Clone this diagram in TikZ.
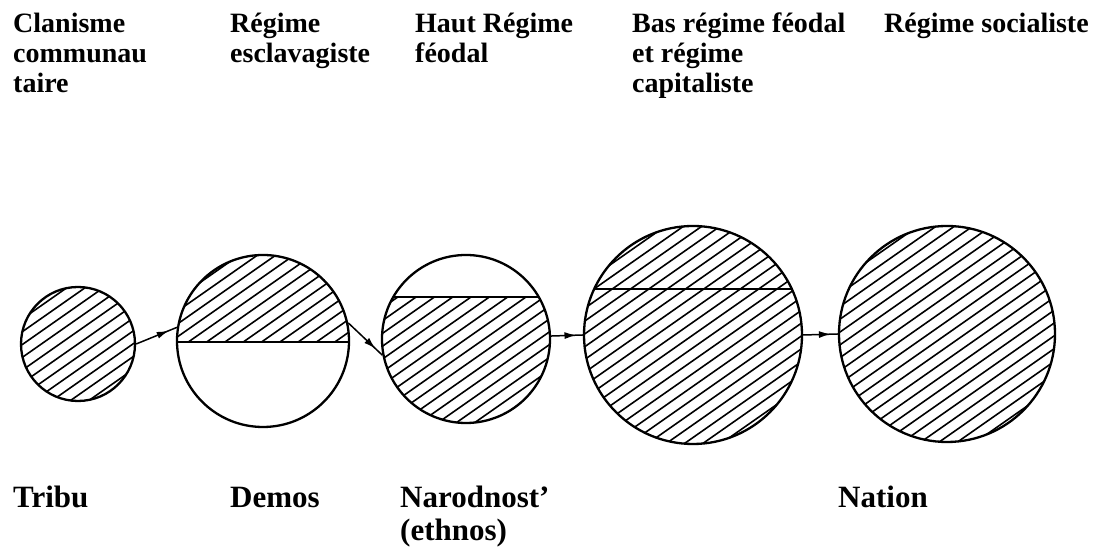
\documentclass[tikz,border=0pt]{standalone}
\usepackage{fontspec}
\setmainfont{Liberation Serif}
\usetikzlibrary{arrows.meta,decorations.markings}

\tikzset{
  disc/.style={circle, draw, line width=2.3pt, inner sep=0pt, minimum size=#1},
  hatchline/.style={line width=1.6pt},
  divline/.style={line width=2.5pt},
  flow/.style={line width=1.5pt, postaction={decorate},
    decoration={markings, mark=at position 0.8 with {\arrow{Latex[length=12pt,width=7pt]}}}},
  toplabel/.style={anchor=north west, inner sep=0pt, align=left,
    font=\fontsize{28}{30}\selectfont\bfseries},
  botlabel/.style={anchor=north west, inner sep=0pt, align=left,
    font=\fontsize{31}{33}\selectfont\bfseries},
}

% hatching of a disc between two heights (relative to its centre)
\newcommand{\hatchdisc}[4]{%
  \begin{scope}[shift={(#1.center)}]
    \clip (0,0) circle[radius=#2];
    \clip (-#2,#3) rectangle (#2,#4);
    \foreach \k in {-12,...,12}
      \draw[hatchline, rotate=35] (-130,\k*10.5) -- (130,\k*10.5);
  \end{scope}}
% horizontal chord of a disc
\newcommand{\chord}[3]{%
  \begin{scope}[shift={(#1.center)}]
    \clip (0,0) circle[radius=#2];
    \draw[divline] (-#2,#3) -- (#2,#3);
  \end{scope}}

\begin{document}
\begin{tikzpicture}[x=1pt, y=1pt]
    \useasboundingbox (0,0) rectangle (1101,548);

    % Discs
    \node[disc=114pt] (tribu)  at (78,204)  {};
    \node[disc=172pt] (demos)  at (263,207) {};
    \node[disc=168pt] (narod)  at (466,209) {};
    \node[disc=218pt] (bas)    at (693,213) {};
    \node[disc=216pt] (nation) at (947,214) {};

    % Hatched parts and dividing lines
    \hatchdisc{tribu}{57}{-60}{60}
    \hatchdisc{demos}{86}{-1}{90}
    \chord{demos}{86}{-1}
    \hatchdisc{narod}{84}{-90}{42}
    \chord{narod}{84}{42}
    \hatchdisc{bas}{109}{-112}{112}
    \chord{bas}{109}{46}
    \hatchdisc{nation}{108}{-112}{112}

    % Arrows
    \draw[flow] (tribu.east) -- (demos.171);
    \draw[flow] (demos.12) -- (narod.191);
    \draw[flow] (narod.2) -- (bas.180);
    \draw[flow] (bas.east) -- (nation.west);

    % Top labels
    \node[toplabel] (clan)  at (13,537)  {\strut Clanisme\\communau\\taire};
    \node[toplabel] (escl)  at (230,537) {\strut Régime\\esclavagiste};
    \node[toplabel] (haut)  at (415,537) {\strut Haut Régime\\féodal};
    \node[toplabel] (capi)  at (632,537) {\strut Bas régime féodal\\et régime\\capitaliste};
    \node[toplabel] (socia) at (884,537) {\strut Régime socialiste};

    % Bottom labels
    \node[botlabel] (tribulab)  at (13,64)  {\strut Tribu};
    \node[botlabel] (demoslab)  at (230,64) {\strut Demos};
    \node[botlabel] (narodlab)  at (400,64) {\strut Narodnost'\\(ethnos)};
    \node[botlabel] (nationlab) at (838,64) {\strut Nation};
\end{tikzpicture}
\end{document}
